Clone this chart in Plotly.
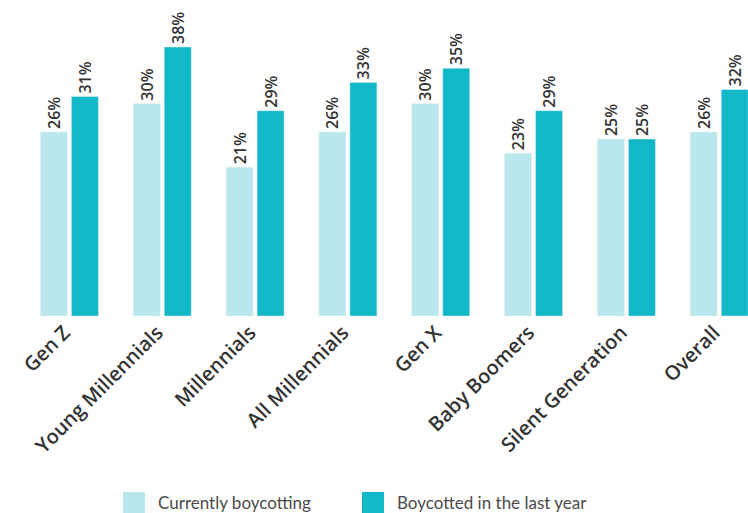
import plotly.graph_objects as go

categories = ["Gen Z", "Young Millennials", "Millennials", "All Millennials",
              "Gen X", "Baby Boomers", "Silent Generation", "Overall"]
current = [26, 30, 21, 26, 30, 23, 25, 26]
last_year = [31, 38, 29, 33, 35, 29, 25, 32]
series_names = ["Currently boycotting", "Boycotted in the last year"]
colors = ["#b8e8ec", "#10b8c8"]

W, H = 748, 513
ML, MR, MT, MB = 23, 0, 0, 197
plot_h = H - MT - MB

fig = go.Figure()
for name, vals, col in zip(series_names, [current, last_year], colors):
    fig.add_trace(go.Bar(
        x=categories, y=vals, name=name, marker_color=col,
        text=[f"{v}%" for v in vals], textposition="outside", textangle=-90,
        constraintext="none",
        textfont=dict(family="Open Sans", size=16, color="#333333", weight=600),
        cliponaxis=False, showlegend=False, hoverinfo="skip",
    ))

# custom legend (large square swatches)
def py2paper(py):
    return (MT + plot_h - py) / plot_h

def px2paper(px):
    return (px - ML) / (W - ML - MR)

legend_items = [(123, series_names[0], colors[0]), (362, series_names[1], colors[1])]
shapes, annotations = [], []
for x0, name, col in legend_items:
    shapes.append(dict(type="rect", xref="paper", yref="paper",
                       x0=px2paper(x0), x1=px2paper(x0 + 22),
                       y0=py2paper(513), y1=py2paper(492),
                       fillcolor=col, line=dict(width=0)))
    annotations.append(dict(xref="paper", yref="paper", x=px2paper(x0 + 33),
                            y=py2paper(502.5), text=name, showarrow=False,
                            xanchor="left", yanchor="middle",
                            font=dict(family="Lato", size=17, color="#4a4a4a")))

fig.update_layout(
    width=W, height=H,
    margin=dict(l=ML, r=MR, t=MT, b=MB),
    paper_bgcolor="white", plot_bgcolor="white",
    barmode="group", bargap=0.332, bargroupgap=0.129,
    xaxis=dict(range=[-0.5, 7.31], tickangle=-45, showgrid=False, zeroline=False,
               showline=False, ticks="", ticklabelshift=-5,
               tickfont=dict(family="Open Sans", size=20, color="#333333", weight=600)),
    yaxis=dict(range=[0, 316 / 7.079], visible=False),
    showlegend=False,
    shapes=shapes, annotations=annotations,
)

fig.write_html("out.html", config={"displayModeBar": False},
               post_script="document.body.style.margin='0';document.body.style.overflow='hidden';")
